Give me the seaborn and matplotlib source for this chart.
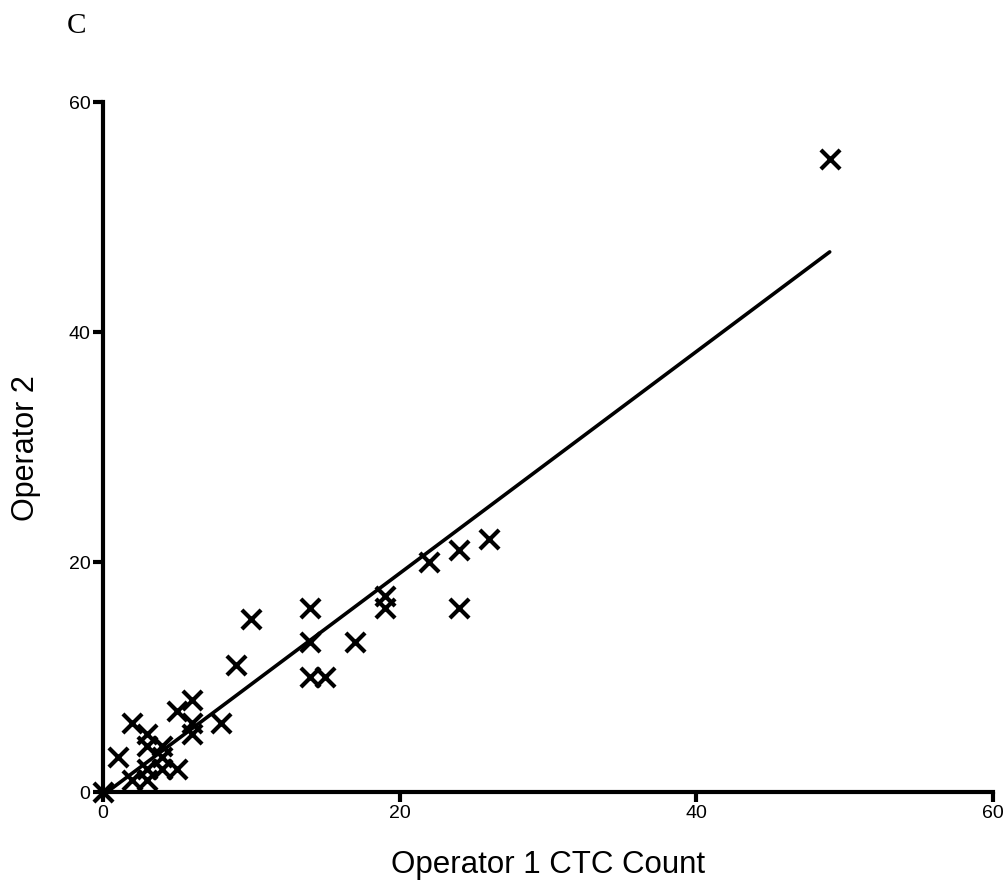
import matplotlib
matplotlib.use("Agg")
import matplotlib.pyplot as plt
import pandas as pd
import seaborn as sns

# CTC counts (one entry per sample)
operator1 = [0, 1, 2, 2, 3, 3, 3, 3, 4, 4, 4, 5, 5, 6, 6, 6, 8, 9, 10,
             14, 14, 14, 15, 17, 19, 19, 22, 24, 24, 26, 49]
operator2 = [0, 3, 6, 1, 5, 4, 2, 1, 4, 3, 2, 2, 7, 8, 6, 5, 6, 11, 15,
             16, 13, 10, 10, 13, 17, 16, 20, 21, 16, 22, 55]
ticks = [0, 20, 40, 60]

df = pd.DataFrame({"op1": operator1, "op2": operator2})

sns.set_style("ticks")
plt.rcParams["font.family"] = ["Liberation Sans", "DejaVu Sans"]
plt.rcParams["text.color"] = "black"
plt.rcParams["axes.labelcolor"] = "black"
plt.rcParams["xtick.color"] = "black"
plt.rcParams["ytick.color"] = "black"

fig = plt.figure(figsize=(10.08, 8.87), dpi=100)
ax = fig.add_axes([0.102, 0.106, 0.883, 0.778])

sns.regplot(
    data=df, x="op1", y="op2", ax=ax, ci=None, truncate=True,
    marker="x", color="black",
    scatter_kws={"s": 190, "linewidths": 3, "alpha": 1, "clip_on": False, "zorder": 3},
    line_kws={"linewidth": 2.6, "solid_capstyle": "round"},
)

ax.set_xlim(0, 60)
ax.set_ylim(0, 60)
ax.set_xticks(ticks)
ax.set_yticks(ticks)
ax.tick_params(axis="both", direction="out", length=7, width=3,
               labelsize=14, pad=2, color="black", labelcolor="black")
for side in ["left", "bottom"]:
    ax.spines[side].set_linewidth(3)
    ax.spines[side].set_color("black")
sns.despine(ax=ax)

ax.set_xlabel("Operator 1 CTC Count", fontsize=22.5, labelpad=20, color="black")
ax.set_ylabel("Operator 2", fontsize=22, labelpad=20, color="black")

fig.text(0.066, 0.985, "C", fontsize=21, family=["Liberation Serif", "DejaVu Serif"],
         va="top", ha="left", color="black")

fig.savefig("out.png", dpi=100)
plt.close(fig)
